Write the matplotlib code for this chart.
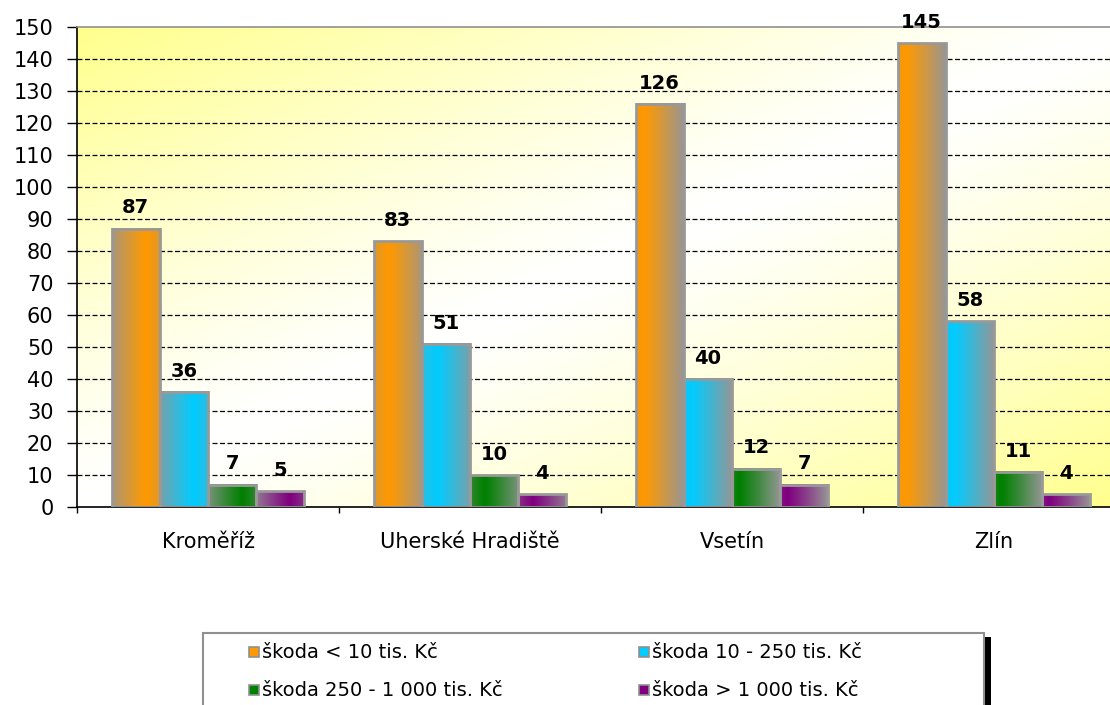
import numpy as np
import matplotlib.pyplot as plt
from matplotlib.patches import Rectangle
from matplotlib.colors import to_rgb

plt.rcParams['font.family'] = ['DejaVu Sans']

# data
regions = ['Kroměříž', 'Uherské Hradiště', 'Vsetín', 'Zlín']
series = ['škoda < 10 tis. Kč', 'škoda 10 - 250 tis. Kč',
          'škoda 250 - 1 000 tis. Kč', 'škoda > 1 000 tis. Kč']
under_10 = [87, 83, 126, 145]
from_10_to_250 = [36, 51, 40, 58]
from_250_to_1000 = [7, 10, 12, 11]
over_1000 = [5, 4, 7, 4]
values = [under_10, from_10_to_250, from_250_to_1000, over_1000]
colors = ['#ff9900', '#00ccff', '#008000', '#800080']
yticks = list(range(0, 151, 10))

W, H = 1110, 705
fig = plt.figure(figsize=(W / 100, H / 100), dpi=100)
ax = fig.add_axes([77 / W, 1 - 507 / H, 1048 / W, 480 / H])

# background: yellow in two corners, white along the diagonal
u, v = np.meshgrid(np.linspace(0, 1, 300), np.linspace(1, 0, 300))
t = (u + (1 - v)) / 2
a = np.abs(2 * t - 1) ** 1.2
yellow = np.array([1.0, 1.0, 0.55])
bg = np.ones((300, 300, 3)) * (1 - a[..., None]) + yellow * a[..., None]
ax.imshow(bg, extent=[0, 1, 0, 1], transform=ax.transAxes, aspect='auto', zorder=0)

x = np.arange(len(regions))
w = 0.184
gray = np.array(to_rgb('#969696'))
for i, (vals, col) in enumerate(zip(values, colors)):
    bars = ax.bar(x + (i - 1.5) * w, vals, w, facecolor='none',
                  edgecolor='#999999', linewidth=2, zorder=3)
    c = np.array(to_rgb(col))
    for g, (rect, val) in enumerate(zip(bars, vals)):
        # horizontal gradient: colour stripe, fading to grey at the sides
        p = max(0.15, 0.7 - 0.4 * g)
        xs = np.linspace(0, 1, 60)
        m = np.clip(np.abs(xs - p) / 0.85, 0, 1) ** 1.1
        strip = c * (1 - m[:, None]) + gray * m[:, None]
        img = np.tile(strip[None, :, :], (2, 1, 1))
        x0 = rect.get_x()
        ax.imshow(img, extent=[x0, x0 + rect.get_width(), 0, rect.get_height()],
                  aspect='auto', zorder=2, interpolation='bilinear')
        ax.annotate(str(val), (x0 + rect.get_width() / 2, val),
                    xytext=(0, 8), textcoords='offset points',
                    ha='center', va='bottom', fontsize=14, fontweight='bold')

ax.set_xlim(-0.5, 3.5)
ax.set_ylim(0, 150)
ax.set_yticks(yticks)
ax.tick_params(axis='y', length=7, width=1, pad=10, labelsize=15)
ax.set_xticks(x)
ax.set_xticklabels(regions)
ax.set_xticks(np.arange(-0.5, 3.0, 1.0), minor=True)
ax.tick_params(axis='x', which='major', length=0, pad=18, labelsize=15)
ax.tick_params(axis='x', which='minor', length=4.5, width=1)

ax.yaxis.grid(True, color='black', linestyle=(0, (4, 2)), linewidth=0.9)
ax.set_axisbelow(True)
grid = ax.get_ygridlines()
for g in grid:
    g.set_zorder(1)
grid[0].set_visible(False)
grid[-1].set_visible(False)
ax.spines['right'].set_visible(False)
ax.spines['top'].set_color('#909090')
ax.spines['top'].set_linewidth(1.2)
ax.spines['left'].set_linewidth(1.2)
ax.spines['bottom'].set_linewidth(1.2)

# legend box with dark shadow on the right, cut by the bottom edge
fig.patches.append(Rectangle((985 / W, -0.02), 6 / W, (705 - 637) / H + 0.02,
                             transform=fig.transFigure, facecolor='black',
                             edgecolor='none', zorder=1))
fig.patches.append(Rectangle((203 / W, -0.02), (984 - 203) / W, (705 - 633) / H + 0.02,
                             transform=fig.transFigure, facecolor='white',
                             edgecolor='#909090', linewidth=1.5, zorder=2))
for i, (name, col) in enumerate(zip(series, colors)):
    cx = (249 + 390 * (i % 2)) / W
    cy = 1 - (652 + 38 * (i // 2)) / H
    fig.patches.append(Rectangle((cx, cy - 5 / H), 10 / W, 10 / H,
                                 transform=fig.transFigure, facecolor=col,
                                 edgecolor='#909090', linewidth=1.2, zorder=3))
    fig.text(cx + 13 / W, cy, name, fontsize=14, va='center', ha='left', zorder=4)

fig.savefig('out.png', dpi=100)
